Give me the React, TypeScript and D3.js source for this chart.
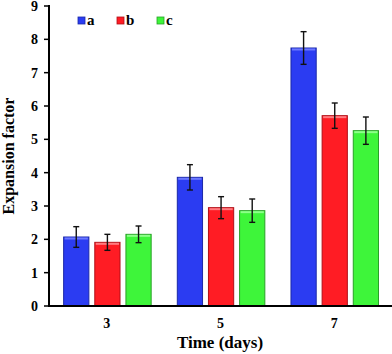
import React from "react";
import * as d3 from "d3";

const days = ["3", "5", "7"];
const seriesKeys = ["a", "b", "c"];
const valuesA = [2.07, 3.86, 7.74];
const valuesB = [1.91, 2.95, 5.71];
const valuesC = [2.15, 2.86, 5.26];
const errorsA = [0.31, 0.38, 0.49];
const errorsB = [0.24, 0.33, 0.38];
const errorsC = [0.25, 0.35, 0.41];
const yTicks = [0, 1, 2, 3, 4, 5, 6, 7, 8, 9];

const colors = ["#2b3cf2", "#ff1c24", "#3ef53a"];
const strokes = ["#1b28a8", "#b01018", "#2aa028"];
const highlights = ["#6c78ff", "#ff7b80", "#8dff8a"];

const W = 392, H = 354;
const margin = { top: 6, right: 0, bottom: 48, left: 49 };
const font = "'Liberation Serif', 'Times New Roman', serif";

export default function App() {
  const values = [valuesA, valuesB, valuesC];
  const errors = [errorsA, errorsB, errorsC];

  const x = d3.scaleBand().domain(days).range([margin.left + 1, W - 1]).paddingInner(0).paddingOuter(0);
  const sub = d3.scaleBand().domain(seriesKeys).range([x.bandwidth() * 0.12, x.bandwidth() * 0.89]).paddingInner(0.19);
  const y = d3.scaleLinear().domain([0, 9]).range([H - margin.bottom, margin.top]);

  const legendX = [78, 117, 157];

  return (
    <svg width={W} height={H} style={{ position: "absolute", left: 0, top: 0 }} fontFamily={font} fontWeight="bold">
      {/* bars */}
      {seriesKeys.map((k, si) =>
        days.map((d, di) => {
          const bx = x(d)! + sub(k)!;
          const bw = sub.bandwidth();
          const v = values[si][di];
          const top = y(v);
          const bottom = y(0);
          const e = errors[si][di];
          const cx = bx + bw / 2;
          return (
            <g key={k + d}>
              <rect x={bx} y={top} width={bw} height={bottom - top} fill={colors[si]} stroke={strokes[si]} strokeWidth={1} />
              <line x1={bx + 1} x2={bx + bw - 1} y1={top + 1.5} y2={top + 1.5} stroke={highlights[si]} strokeWidth={2} />
              <line x1={cx} x2={cx} y1={y(v + e)} y2={y(v - e)} stroke="#111" strokeWidth={1.4} />
              <line x1={cx - 3} x2={cx + 3} y1={y(v + e)} y2={y(v + e)} stroke="#111" strokeWidth={1.4} />
              <line x1={cx - 3} x2={cx + 3} y1={y(v - e)} y2={y(v - e)} stroke="#111" strokeWidth={1.4} />
            </g>
          );
        })
      )}

      {/* y axis */}
      <line x1={margin.left} x2={margin.left} y1={y(9) - 1} y2={y(0) + 1} stroke="#000" strokeWidth={2} />
      {yTicks.map((t) => (
        <g key={t}>
          <line x1={margin.left - 5} x2={margin.left} y1={y(t)} y2={y(t)} stroke="#000" strokeWidth={1.5} />
          <text x={38} y={y(t)} dy="0.35em" textAnchor="end" fontSize={14}>{t}</text>
        </g>
      ))}

      {/* x axis */}
      <line x1={margin.left} x2={W} y1={y(0)} y2={y(0)} stroke="#000" strokeWidth={2} />
      {days.map((d) => (
        <text key={d} x={x(d)! + x.bandwidth() / 2} y={y(0) + 22} textAnchor="middle" fontSize={14}>{d}</text>
      ))}

      <text x={220} y={348} textAnchor="middle" fontSize={17}>Time (days)</text>
      <text transform={`translate(14, ${(y(0) + y(9)) / 2}) rotate(-90)`} textAnchor="middle" fontSize={16}>Expansion factor</text>

      {/* legend */}
      {seriesKeys.map((k, i) => (
        <g key={k}>
          <rect x={legendX[i]} y={17} width={7} height={7} fill={colors[i]} stroke={strokes[i]} strokeWidth={0.8} />
          <text x={legendX[i] + 9} y={24.5} fontSize={15}>{k}</text>
        </g>
      ))}
    </svg>
  );
}
